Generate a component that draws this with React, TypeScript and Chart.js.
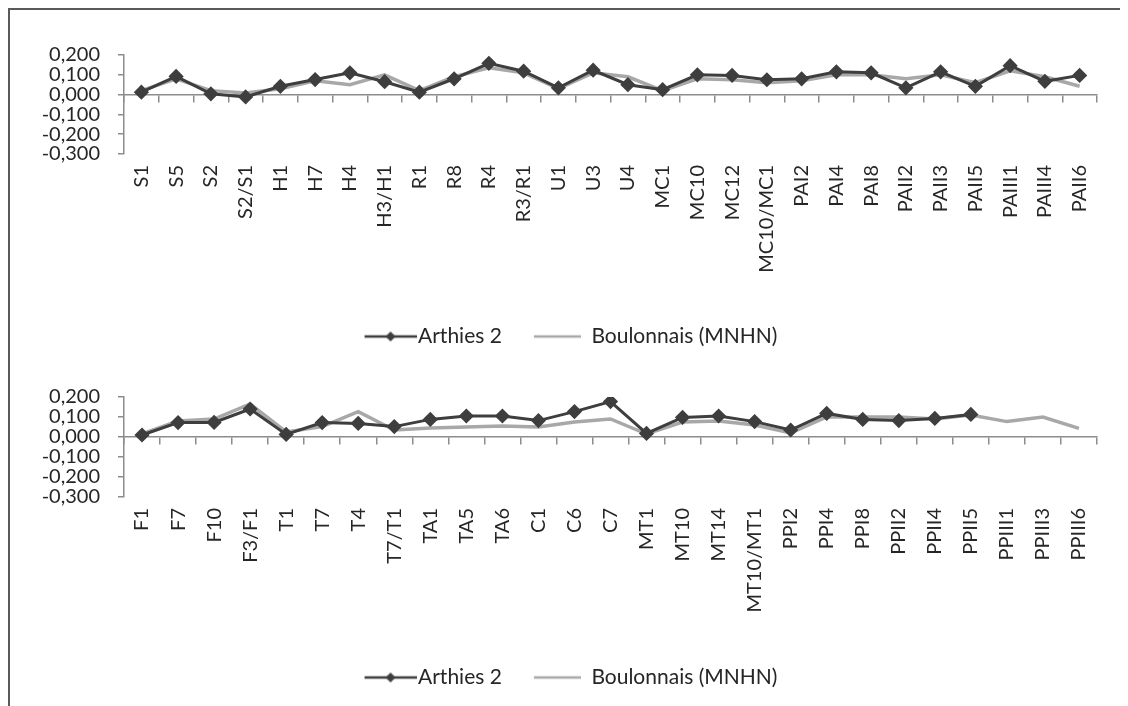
import React, { useEffect, useRef } from 'react';
import { Chart, registerables } from 'chart.js';

Chart.register(...registerables);

const topCategories = ['S1', 'S5', 'S2', 'S2/S1', 'H1', 'H7', 'H4', 'H3/H1', 'R1', 'R8', 'R4', 'R3/R1', 'U1', 'U3', 'U4', 'MC1', 'MC10', 'MC12', 'MC10/MC1', 'PAI2', 'PAI4', 'PAI8', 'PAII2', 'PAII3', 'PAII5', 'PAIII1', 'PAIII4', 'PAII6'];
const topArthies = [0.012, 0.092, 0.004, -0.012, 0.042, 0.076, 0.11, 0.065, 0.012, 0.08, 0.158, 0.118, 0.034, 0.123, 0.05, 0.025, 0.1, 0.097, 0.075, 0.08, 0.115, 0.11, 0.034, 0.115, 0.042, 0.146, 0.067, 0.097];
const topBoulonnais = [0.02, 0.08, 0.02, 0.008, 0.03, 0.07, 0.05, 0.1, 0.02, 0.09, 0.135, 0.11, 0.03, 0.11, 0.09, 0.02, 0.08, 0.075, 0.06, 0.07, 0.1, 0.1, 0.08, 0.1, 0.06, 0.12, 0.09, 0.042];

const bottomCategories = ['F1', 'F7', 'F10', 'F3/F1', 'T1', 'T7', 'T4', 'T7/T1', 'TA1', 'TA5', 'TA6', 'C1', 'C6', 'C7', 'MT1', 'MT10', 'MT14', 'MT10/MT1', 'PPI2', 'PPI4', 'PPI8', 'PPII2', 'PPII4', 'PPII5', 'PPIII1', 'PPIII3', 'PPIII6'];
const bottomArthies = [0.01, 0.072, 0.073, 0.14, 0.013, 0.072, 0.068, 0.052, 0.088, 0.105, 0.105, 0.082, 0.127, 0.177, 0.018, 0.098, 0.105, 0.077, 0.035, 0.118, 0.088, 0.082, 0.093, 0.113, null, null, null];
const bottomBoulonnais = [0.015, 0.08, 0.09, 0.165, 0.025, 0.052, 0.127, 0.035, 0.045, 0.05, 0.055, 0.05, 0.075, 0.09, 0.015, 0.075, 0.08, 0.06, 0.02, 0.1, 0.1, 0.1, 0.09, 0.11, 0.077, 0.1, 0.043];

const seriesNames = ['Arthies 2', 'Boulonnais (MNHN)'];
const yTickLabels = ['0,200', '0,100', '0,000', '-0,100', '-0,200', '-0,300'];
const yMin = -0.3;
const yMax = 0.2;
const yStep = 0.1;

const DARK = '#3e3e3e';
const LIGHT = '#a8a8a8';
const AXIS = '#8c8c8c';
const TEXT = '#262626';
const FONT = 'Lato, "Open Sans", sans-serif';

// legend marker image: transparent canvas with a line segment (and optional diamond)
function makeMarker(width: number, from: number, to: number, diamondAt: number | null, color: string, lw: number) {
  const c = document.createElement('canvas');
  c.width = width;
  c.height = 14;
  const ctx = c.getContext('2d')!;
  ctx.strokeStyle = color;
  ctx.lineWidth = lw;
  ctx.beginPath();
  ctx.moveTo(from, 7);
  ctx.lineTo(to, 7);
  ctx.stroke();
  if (diamondAt !== null) {
    ctx.fillStyle = color;
    ctx.beginPath();
    ctx.moveTo(diamondAt, 2);
    ctx.lineTo(diamondAt + 5, 7);
    ctx.lineTo(diamondAt, 12);
    ctx.lineTo(diamondAt - 5, 7);
    ctx.closePath();
    ctx.fill();
  }
  return c;
}

type Cfg = { padTop: number; padBottom: number; xHeight: number };

function buildChart(canvas: HTMLCanvasElement, cats: string[], a: (number | null)[], b: (number | null)[], cfg: Cfg) {
  const markers = [makeMarker(96, 44, 96, 70, DARK, 2.5), makeMarker(78, 31, 78, null, LIGHT, 2.5)];
  return new Chart(canvas, {
    type: 'line',
    data: {
      labels: cats,
      datasets: [
        {
          label: seriesNames[0],
          data: a,
          borderColor: DARK,
          backgroundColor: DARK,
          borderWidth: 3,
          pointStyle: 'rectRot',
          pointRadius: 5.5,
          pointBackgroundColor: DARK,
          pointBorderColor: DARK,
          tension: 0,
        },
        {
          label: seriesNames[1],
          data: b,
          borderColor: LIGHT,
          backgroundColor: LIGHT,
          borderWidth: 3.5,
          pointRadius: 0,
          tension: 0,
        },
      ],
    },
    options: {
      animation: false,
      responsive: false,
      maintainAspectRatio: false,
      layout: { padding: { top: cfg.padTop, left: 0, right: 23, bottom: cfg.padBottom } },
      plugins: {
        tooltip: { enabled: false },
        legend: {
          position: 'bottom',
          labels: {
            usePointStyle: true,
            pointStyleWidth: 78,
            padding: 1,
            color: TEXT,
            font: { family: FONT, size: 21, lineHeight: 1 },
            generateLabels: (chart: any) => {
              const items = Chart.defaults.plugins.legend.labels.generateLabels(chart);
              items.forEach((it: any, i: number) => {
                it.pointStyle = markers[i];
              });
              return items;
            },
          },
        },
      },
      scales: {
        x: {
          type: 'category',
          offset: true,
          grid: { display: false, drawTicks: false },
          border: { display: false },
          ticks: {
            autoSkip: false,
            minRotation: 90,
            maxRotation: 90,
            padding: 11,
            color: TEXT,
            font: { family: FONT, size: 20, lineHeight: 1 },
          },
          afterFit: (s: any) => {
            s.height = cfg.xHeight;
          },
        },
        xZero: {
          type: 'category',
          position: { y: 0 },
          offset: true,
          grid: { display: true, drawOnChartArea: false, drawTicks: true, tickLength: 7, offset: true, color: AXIS, lineWidth: 1.5 },
          border: { display: true, color: AXIS, width: 1.5 },
          ticks: { display: false, autoSkip: false },
        },
        y: {
          min: yMin,
          max: yMax,
          grid: { display: true, drawOnChartArea: false, drawTicks: true, tickLength: 6, color: AXIS, lineWidth: 1.5 },
          border: { display: true, color: AXIS, width: 1.5 },
          ticks: {
            stepSize: yStep,
            autoSkip: false,
            padding: 18,
            color: TEXT,
            font: { family: FONT, size: 20, lineHeight: 1 },
            callback: (v: any) => yTickLabels[Math.round((yMax - Number(v)) / yStep)] ?? '',
          },
          afterFit: (s: any) => {
            s.width = 114;
          },
        },
      },
    } as any,
  });
}

export default function App() {
  const topRef = useRef<HTMLCanvasElement>(null);
  const botRef = useRef<HTMLCanvasElement>(null);

  useEffect(() => {
    // legend height = 21 + 1 + 10 = 32
    const c1 = buildChart(topRef.current!, topCategories, topArthies, topBoulonnais, { padTop: 45, padBottom: 3, xHeight: 171 });
    const c2 = buildChart(botRef.current!, bottomCategories, bottomArthies, bottomBoulonnais, { padTop: 37, padBottom: 8, xHeight: 169 });
    return () => {
      c1.destroy();
      c2.destroy();
    };
  }, []);

  return (
    <div
      style={{
        width: 1111,
        height: 696,
        borderTop: '2px solid #5a5a5a',
        borderLeft: '2px solid #5a5a5a',
        borderRight: '1px solid #e2e2e2',
        background: '#fff',
        overflow: 'hidden',
      }}
    >
      <canvas ref={topRef} width={1110} height={350} style={{ display: 'block', width: 1110, height: 350 }} />
      <canvas ref={botRef} width={1110} height={346} style={{ display: 'block', width: 1110, height: 346 }} />
    </div>
  );
}
